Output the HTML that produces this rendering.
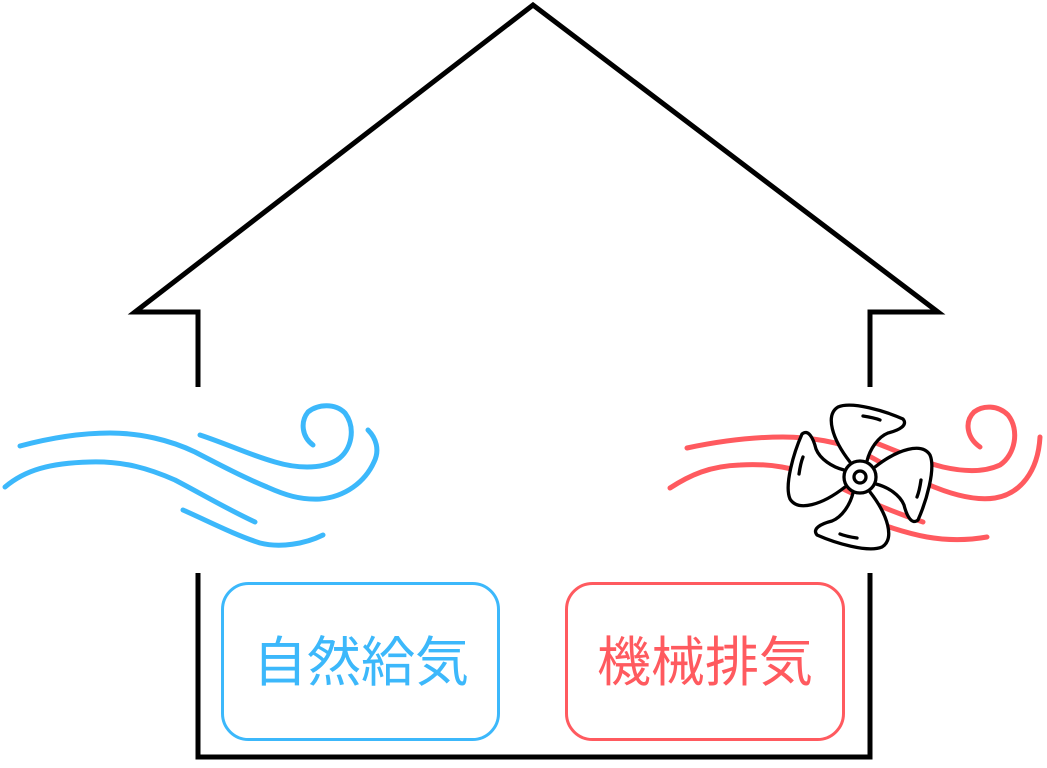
<!DOCTYPE html>
<html><head><meta charset="utf-8"><style>
html,body{margin:0;padding:0;background:#fff;}
svg{display:block;}
</style></head><body>
<svg width="1047" height="768" viewBox="0 0 1047 768" xmlns="http://www.w3.org/2000/svg">
<g fill="none" stroke="#000" stroke-width="5" stroke-linejoin="miter">
<polyline points="198,387 198,312 135,312 533,5 938,312 870,312 870,387"/>
<polyline points="198,573 198,757 870,757 870,573"/>
</g>
<g fill="none" stroke="#3cb8fb" stroke-width="5" stroke-linecap="round">
<path d="M20,446 C50,438 80,433 110,433 C140,433 170,440 195,452 C220,465 245,478 267,487 C285,495 300,500 320,499 C345,497 365,482 374,462 C380,450 376,438 368,430"/>
<path d="M200,435 C230,445 250,455 275,462 C295,468 320,470 337,460 C352,450 356,428 345,413 C335,403 318,404 308,412 C300,422 302,437 313,445"/>
<path d="M5,487 C25,470 50,463 90,462 C125,461 150,469 175,480 C200,493 225,508 255,522"/>
<path d="M183,510 C210,522 235,535 260,543 C280,548 305,544 323,535"/>
</g>
<g fill="none" stroke="#ff5a5f" stroke-width="5" stroke-linecap="round">
<path d="M687,448 C720,441 750,437 783,437 C810,437 840,442 862,452 C885,465 905,476 927,484 C950,494 975,501 995,498 C1020,494 1038,472 1040,437"/>
<path d="M863,438 C890,448 915,460 943,467 C965,472 985,472 1000,465 C1015,455 1020,430 1008,415 C998,405 983,405 974,412 C964,422 967,438 980,447"/>
<path d="M670,488 C690,475 710,466 740,465 C770,463 795,468 820,478 C850,492 880,508 923,522"/>
<path d="M850,513 C875,522 900,532 927,537 C950,541 970,540 987,537"/>
</g>
<g transform="translate(860,477)" fill="#fff" stroke="#000" stroke-width="3.3" stroke-linecap="round" stroke-linejoin="round">
<g id="bl"><path d="M-10,-15 C-28,-38 -35,-62 -22,-70 C-8,-76 25,-66 43,-58 C48,-52 40,-47 28,-44 C18,-40 10,-28 7,-16"/><path d="M3,-61 C10,-60 15,-59 20,-57" fill="none"/></g>
<use href="#bl" transform="rotate(90)"/>
<use href="#bl" transform="rotate(180)"/>
<use href="#bl" transform="rotate(270)"/>
<circle r="16"/><circle r="6"/>
</g>
<rect x="222.5" y="583.5" width="276" height="156" rx="26" fill="none" stroke="#3cb8fb" stroke-width="3"/>
<rect x="566.5" y="583.5" width="277" height="156" rx="26" fill="none" stroke="#ff5a5f" stroke-width="3"/>
<text x="361" y="681" text-anchor="middle" font-family="Liberation Sans, Noto Sans CJK JP, sans-serif" font-size="54" font-weight="400" fill="#3cb8fb">自然給気</text>
<text x="705" y="681" text-anchor="middle" font-family="Liberation Sans, Noto Sans CJK JP, sans-serif" font-size="54" font-weight="400" fill="#ff5a5f">機械排気</text>
</svg>
</body></html>
